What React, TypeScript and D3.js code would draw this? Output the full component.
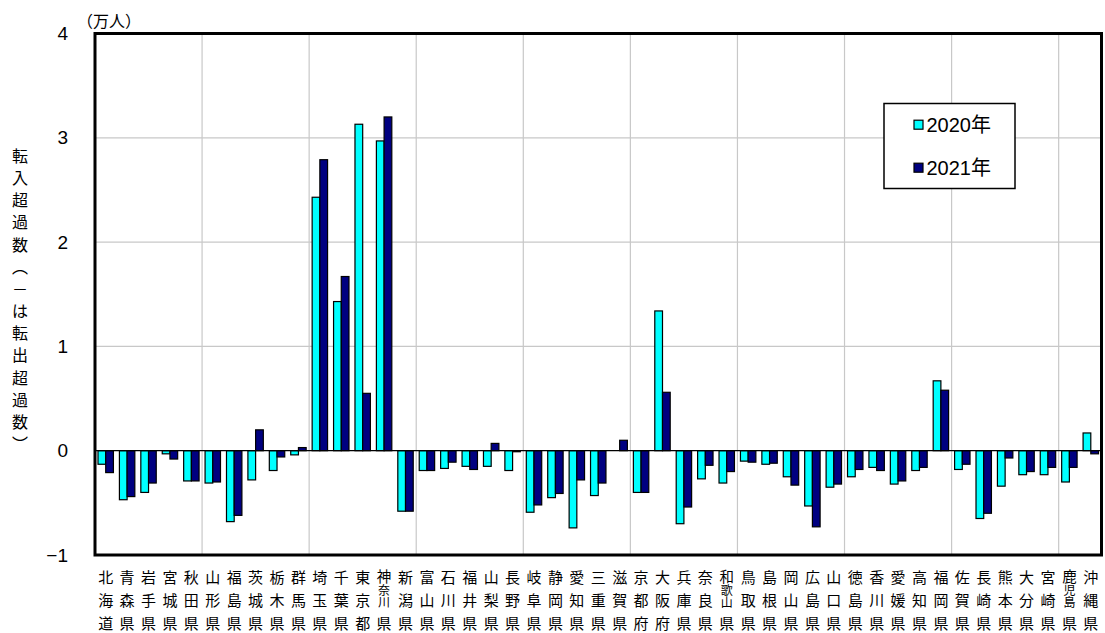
import * as d3 from "d3";

// 都道府県別 転入超過数（万人）
const prefectures = [
  "北海道", "青森県", "岩手県", "宮城県", "秋田県", "山形県", "福島県", "茨城県", "栃木県", "群馬県",
  "埼玉県", "千葉県", "東京都", "神奈川県", "新潟県", "富山県", "石川県", "福井県", "山梨県", "長野県",
  "岐阜県", "静岡県", "愛知県", "三重県", "滋賀県", "京都府", "大阪府", "兵庫県", "奈良県", "和歌山県",
  "鳥取県", "島根県", "岡山県", "広島県", "山口県", "徳島県", "香川県", "愛媛県", "高知県", "福岡県",
  "佐賀県", "長崎県", "熊本県", "大分県", "宮崎県", "鹿児島県", "沖縄県",
];

const values2020 = [
  -0.13, -0.47, -0.40, -0.03, -0.29, -0.31, -0.68, -0.28, -0.19, -0.04,
  2.43, 1.43, 3.13, 2.97, -0.58, -0.19, -0.17, -0.15, -0.15, -0.19,
  -0.59, -0.45, -0.74, -0.43, 0.0, -0.40, 1.34, -0.70, -0.27, -0.31,
  -0.10, -0.13, -0.25, -0.53, -0.35, -0.25, -0.16, -0.32, -0.19, 0.67,
  -0.18, -0.65, -0.34, -0.23, -0.23, -0.30, 0.17,
];

const values2021 = [
  -0.21, -0.44, -0.31, -0.08, -0.29, -0.30, -0.62, 0.20, -0.06, 0.03,
  2.79, 1.67, 0.55, 3.20, -0.58, -0.19, -0.11, -0.18, 0.07, -0.01,
  -0.52, -0.41, -0.28, -0.31, 0.10, -0.40, 0.56, -0.54, -0.14, -0.20,
  -0.11, -0.12, -0.33, -0.73, -0.32, -0.18, -0.19, -0.29, -0.16, 0.58,
  -0.13, -0.60, -0.07, -0.20, -0.16, -0.16, -0.03,
];

const seriesNames = ["2020年", "2021年"];
const seriesColors = ["#00ffff", "#000080"];
const yTicks = [-1, 0, 1, 2, 3, 4];
const unitLabel = "（万人）";
const yTitleChars = ["転", "入", "超", "過", "数", "︵", "－", "は", "転", "出", "超", "過", "数", "︶"];

const W = 1105;
const H = 633;
const plot = { left: 95, right: 1101.5, top: 33.5, bottom: 555 };

const jpFont = "'Noto Sans CJK JP', sans-serif";
const numFont = "'Liberation Sans Narrow', 'Liberation Sans', 'Noto Sans CJK JP', sans-serif";

// vertical stack of a prefecture name: [center y offset from plot bottom, font size]
const stack3 = [[22, 15], [45, 15], [68, 15]];
const stack4 = [[21, 14.5], [35, 12], [47, 12], [68, 15]];

export default function App() {
  const series = [values2020, values2021];

  const x = d3.scaleBand()
    .domain(prefectures)
    .range([plot.left, plot.right])
    .paddingInner(0.28)
    .paddingOuter(0.14);

  const xInner = d3.scaleBand()
    .domain(seriesNames)
    .range([0, x.bandwidth()]);

  // category boundaries for the vertical gridlines
  const xEdge = d3.scaleLinear()
    .domain([0, prefectures.length])
    .range([plot.left, plot.right]);

  const y = d3.scaleLinear()
    .domain([-1, 4])
    .range([plot.bottom, plot.top]);

  const step = x.step();
  const vGrid = d3.range(5, prefectures.length, 5);

  return (
    <svg width={W} height={H} style={{ position: "absolute", left: 0, top: 0, background: "#fff" }}>
      {/* gridlines */}
      {yTicks.filter(t => t > -1 && t < 4 && t !== 0).map(t => (
        <line key={"h" + t} x1={plot.left} x2={plot.right} y1={y(t)} y2={y(t)} stroke="#c8c8c8" strokeWidth={1.2} />
      ))}
      {vGrid.map(i => (
        <line key={"v" + i} x1={xEdge(i)} x2={xEdge(i)} y1={plot.top} y2={plot.bottom} stroke="#c8c8c8" strokeWidth={1.2} />
      ))}

      {/* bars */}
      {series.map((vals, si) => (
        <g key={seriesNames[si]}>
          {vals.map((v, i) => {
            const bx = (x(prefectures[i]) as number) + (xInner(seriesNames[si]) as number);
            const y0 = y(0);
            const yv = y(v);
            return (
              <rect
                key={i}
                x={bx}
                y={Math.min(y0, yv)}
                width={xInner.bandwidth()}
                height={Math.abs(yv - y0)}
                fill={seriesColors[si]}
                stroke="#000"
                strokeWidth={1.2}
              />
            );
          })}
        </g>
      ))}

      {/* zero line */}
      <line x1={plot.left} x2={plot.right} y1={y(0)} y2={y(0)} stroke="#000" strokeWidth={1.2} />

      {/* plot border */}
      <rect x={plot.left} y={plot.top} width={plot.right - plot.left} height={plot.bottom - plot.top}
        fill="none" stroke="#000" strokeWidth={3} />

      {/* y tick labels */}
      {yTicks.map(t => (
        <text key={"t" + t} x={68} y={y(t)} textAnchor="end" dominantBaseline="central"
          fontFamily={numFont} fontSize={19} fill="#000">
          {t < 0 ? "−" + Math.abs(t) : t}
        </text>
      ))}

      {/* unit */}
      <text x={77} y={20} dominantBaseline="central" fontFamily={jpFont} fontSize={16} fill="#000">{unitLabel}</text>

      {/* y title, vertical */}
      {yTitleChars.map((c, i) => (
        <text key={"yt" + i} x={20} y={155 + i * 22.15} textAnchor="middle" dominantBaseline="central"
          fontFamily={jpFont} fontSize={16} fill="#000">{c}</text>
      ))}

      {/* x labels, one vertical text per prefecture */}
      {prefectures.map((name, i) => {
        const cx = xEdge(i) + step / 2;
        const chars = name.split("");
        const layout = chars.length === 4 ? stack4 : stack3;
        return (
          <text key={"x" + i} x={cx} y={plot.bottom + 14} fontFamily={jpFont} fill="#000"
            style={{ writingMode: "vertical-rl" }}>
            {chars.map((c, j) => (
              <tspan key={j} x={cx} y={plot.bottom + layout[j][0] - layout[j][1] / 2} fontSize={layout[j][1]}>{c}</tspan>
            ))}
          </text>
        );
      })}

      {/* legend */}
      <g>
        <rect x={884} y={103.5} width={131} height={85} fill="#fff" stroke="#000" strokeWidth={1.5} />
        {seriesNames.map((s, i) => {
          const cy = 124.7 + i * 43;
          return (
            <g key={s}>
              <rect x={914} y={cy - 4.5} width={9} height={9} fill={seriesColors[i]} stroke="#000" strokeWidth={1.2} />
              <text x={926.5} y={cy} dominantBaseline="central" fontFamily={numFont} fontSize={20} fill="#000">{s}</text>
            </g>
          );
        })}
      </g>
    </svg>
  );
}
